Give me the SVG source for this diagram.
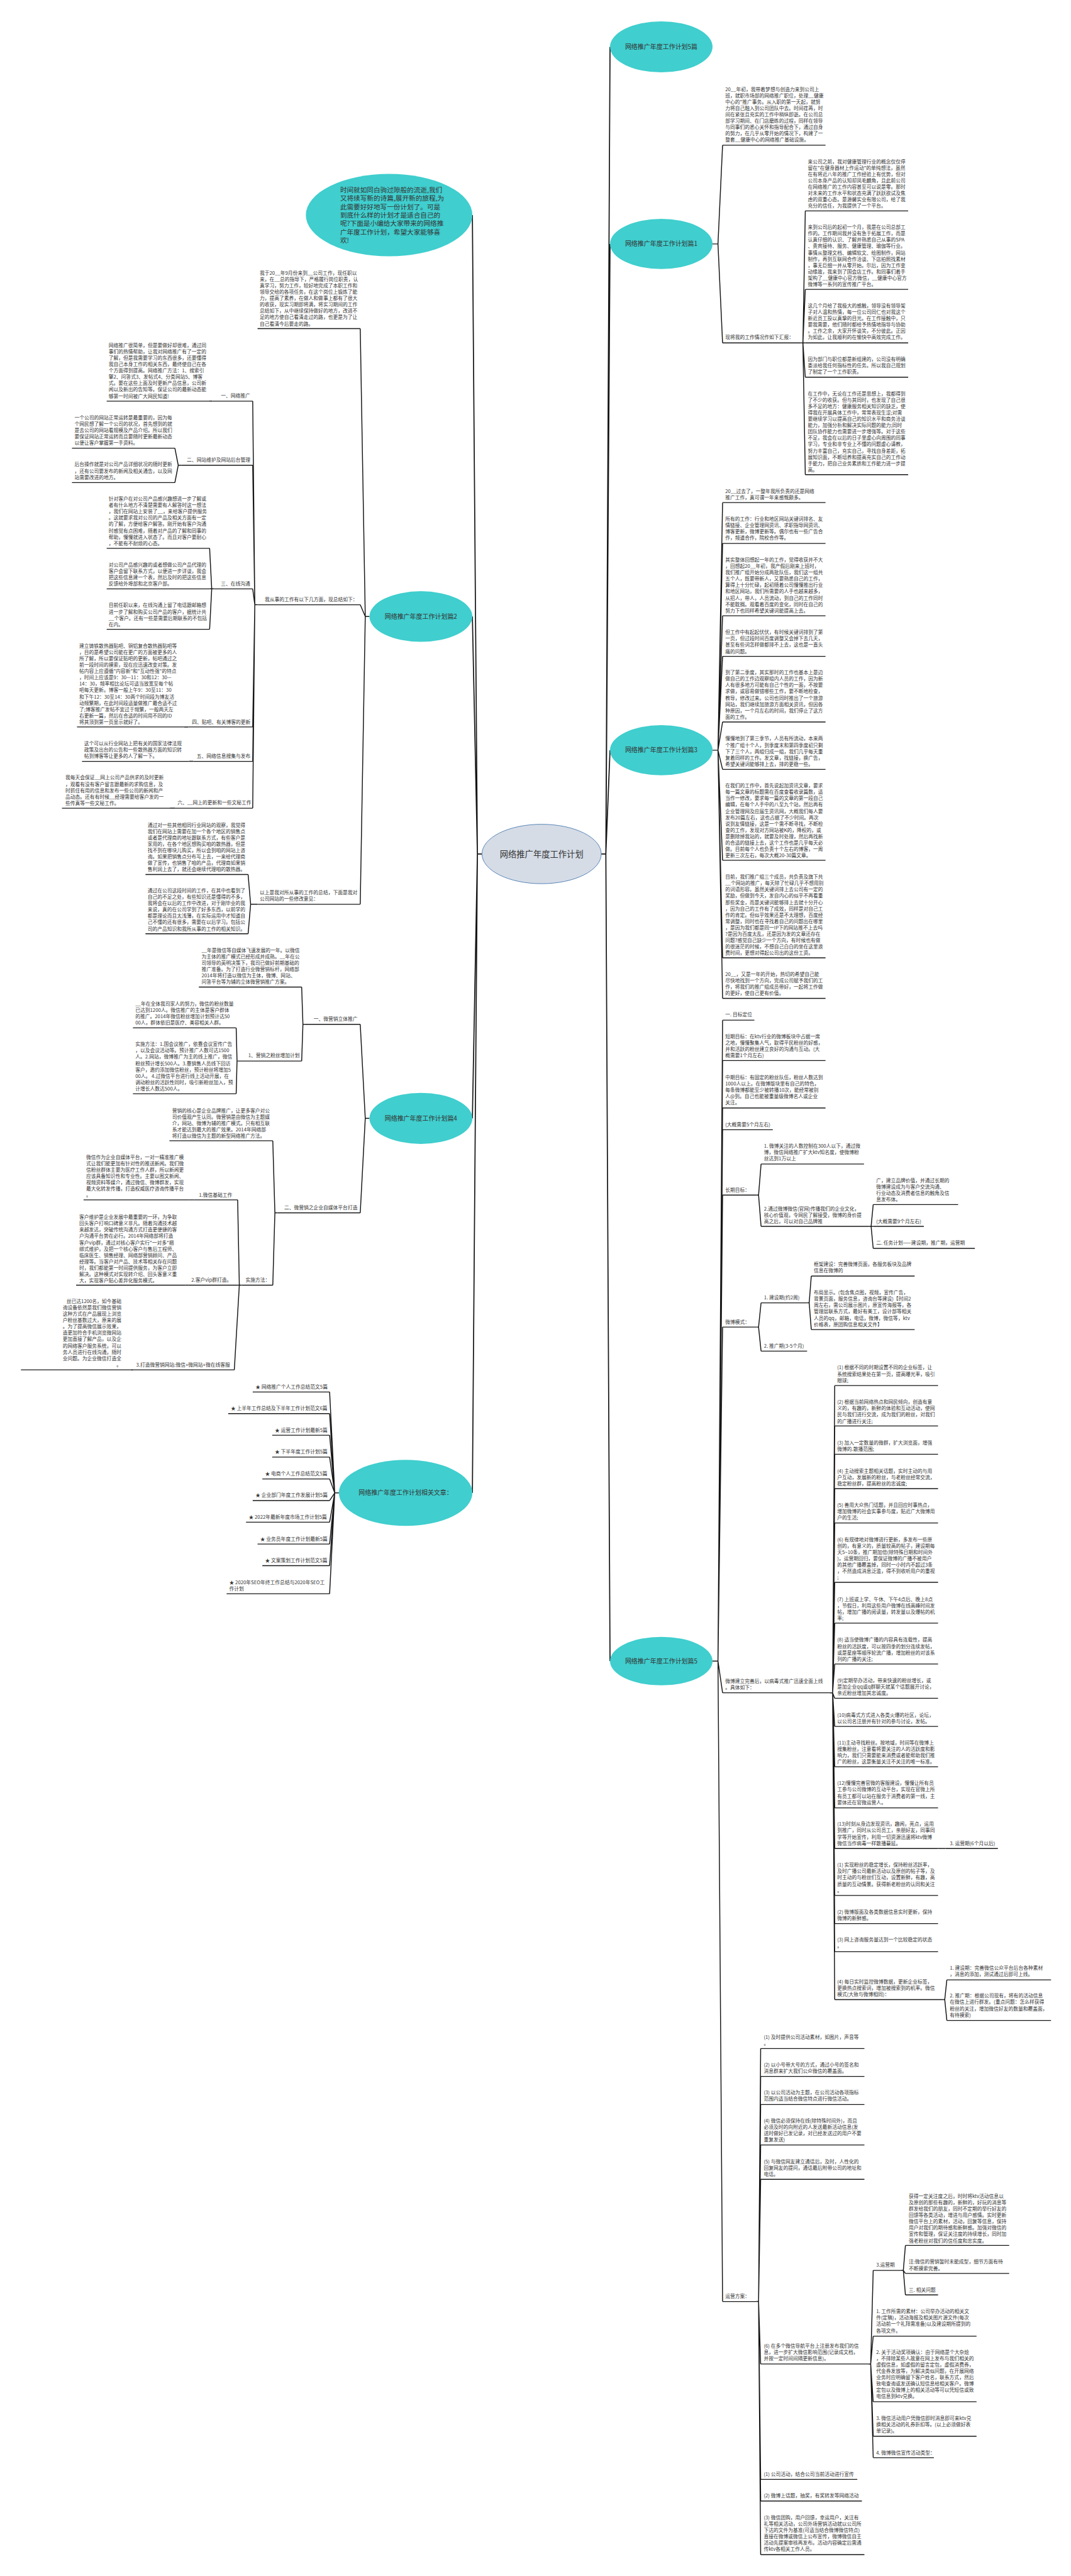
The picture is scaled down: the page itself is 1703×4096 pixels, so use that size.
<svg xmlns="http://www.w3.org/2000/svg" width="1703" height="4096" viewBox="0 0 1703 4096">
<style>
text{font-family:'Noto Sans CJK SC','Noto Sans',sans-serif;fill:#333}
.t{font-size:11.7px}
.n{font-size:15px;text-anchor:middle}
.ul{stroke:#161616;stroke-width:2;fill:none}
.c{stroke:#161616;stroke-width:2.2;fill:none;stroke-linejoin:round}
.nd{fill:#40CECE}
</style>
<rect width="1703" height="4096" fill="#fff"/>
<g transform="scale(0.6653)">
<g id="connectors">
<path class="c" style="stroke-width:2.6" d="M1437 2041H1448L1458 112M1448 2041L1458 583M1448 2041L1458 1793M1448 2041L1458 3970"/>
<path class="c" style="stroke-width:2.6" d="M1152 2041H1141L1129 514M1141 2041L1129 1473.5M1141 2041L1129 2673M1141 2041L1129 3568"/>
<path class="c" d="M1703 583H1716L1727 347M1716 583L1727 819.5"/>
<path class="c" d="M1914 819.5H1919L1924.7 504M1919 819.5L1924.7 691.6M1919 819.5L1924.7 819.5M1919 819.5L1924.7 901.5M1919 819.5L1924.7 1134.5"/>
<path class="c" d="M1703 1793H1716L1727 1201.2M1716 1793L1727 1298.8M1716 1793L1727 1471.7M1716 1793L1727 1568.7M1716 1793L1727 1725.5M1716 1793L1727 1838.8M1716 1793L1727 2056.1M1716 1793L1727 2289.2M1716 1793L1727 2386.2"/>
<path class="c" d="M1703 3970H1716L1727 2438.2M1716 3970L1727 2534.7M1716 3970L1727 2648.1M1716 3970L1727 2700.1M1716 3970L1727 2856.2M1716 3970L1727 3171.7M1716 3970L1727 4045.8M1716 3970L1727 5500.6"/>
<path class="c" d="M1807 2856.2H1813L1819 2782M1813 2856.2L1819 2931"/>
<path class="c" d="M2077 2931H2082L2087 2879M2082 2931L2087 2931M2082 2931L2087 2983.6"/>
<path class="c" d="M1807 3171.7H1813L1819 3113.7M1813 3171.7L1819 3229.1"/>
<path class="c" d="M1929 3113.7H1934L1939 3049.7M1934 3113.7L1939 3177.6"/>
<path class="c" d="M1984 4045.8H1990L1995 3311.5M1990 4045.8L1995 3408M1990 4045.8L1995 3475.7M1990 4045.8L1995 3557.8M1990 4045.8L1995 3639.9M1990 4045.8L1995 3781.7M1990 4045.8L1995 3879.3M1990 4045.8L1995 3976.9M1990 4045.8L1995 4059M1990 4045.8L1995 4126.1M1990 4045.8L1995 4222.6M1990 4045.8L1995 4320.9M1990 4045.8L1995 4417.9M1990 4045.8L1995 4530M1990 4045.8L1995 4597.3M1990 4045.8L1995 4664.5M1990 4045.8L1995 4779.1"/>
<path class="c" d="M2242 4417.9H2260"/>
<path class="c" d="M2254 4779.1H2258L2263 4731.8M2258 4779.1L2263 4828.8"/>
<path class="c" d="M1807 5500.6H1813L1818 4896M1813 5500.6L1818 4962.7M1813 5500.6L1818 5030M1813 5500.6L1818 5126.4M1813 5500.6L1818 5208.5M1813 5500.6L1818 5650M1813 5500.6L1818 5925.6M1813 5500.6L1818 5977.4M1813 5500.6L1818 6105.5"/>
<path class="c" d="M2076 5650H2081L2087 5426.2M2081 5650L2087 5583.5M2081 5650L2087 5740.2M2081 5650L2087 5822.6M2081 5650L2087 5873.8"/>
<path class="c" d="M2154 5426.2H2159L2164 5366.5M2159 5426.2L2164 5433.5M2159 5426.2L2164 5484.8"/>
<path class="c" d="M883 1473.5H873L861 785.3M873 1473.5L861 1445.3M873 1473.5L861 2161.2"/>
<path class="c" d="M615.6 1445.3H609L604 958.7M609 1445.3L604 1111.9M609 1445.3L604 1407.4M609 1445.3L604 1737.5M609 1445.3L604 1819.6M609 1445.3L604 1931.6"/>
<path class="c" d="M507 958.7H499.5M434 1111.9H426L418 1071.2M426 1111.9L418 1153.3M511.6 1407.4H506L501 1310.4M506 1407.4L501 1407.4M506 1407.4L501 1503.9M450 1737.5H440M462 1819.6H452M418 1931.6H406"/>
<path class="c" d="M615.6 2161.2H599L593 2090M599 2161.2L593 2231.7"/>
<path class="c" d="M883 2673H873L861 2448.1M873 2673L861 2898.7"/>
<path class="c" d="M727 2448.1H724L721 2359.1M724 2448.1L721 2535.9M567.7 2535.9H566.5L564.5 2456.7M566.5 2535.9L564.5 2614"/>
<path class="c" d="M663.4 2898.7H657L652 2726.5M657 2898.7L652 3071.5M578 3071.5H572L568 2867.7M572 3071.5L568 3071.5M572 3071.5L560 3274M463.6 2867.7H452M449.7 3071.5H443M319 3274H312"/>
<path class="c" d="M810 3568H800L787.8 3326.8M800 3568L787.8 3378.5M800 3568L787.8 3430.2M800 3568L787.8 3482.4M800 3568L787.8 3534.7M800 3568L787.8 3586.3M800 3568L787.8 3638M800 3568L787.8 3690.2M800 3568L787.8 3741.9M800 3568L787.8 3809"/>
</g>

<g id="center"><ellipse cx="1294.5" cy="2041" rx="142.5" ry="71" fill="#D5DCE6" stroke="#4F7DB3" stroke-width="1.4"/><text x="1294.5" y="2048" style="font-size:20px;text-anchor:middle">网络推广年度工作计划</text></g>

<g id="n-r5"><ellipse class="nd" cx="1580.5" cy="112" rx="122.5" ry="61"/><text class="n" x="1580.5" y="117.3">网络推广年度工作计划5篇</text></g>
<g id="n-r1"><ellipse class="nd" cx="1580.5" cy="583" rx="122.5" ry="60"/><text class="n" x="1580.5" y="588.3">网络推广年度工作计划篇1</text></g>
<g id="n-r3"><ellipse class="nd" cx="1580.5" cy="1793" rx="122.5" ry="60"/><text class="n" x="1580.5" y="1798.3">网络推广年度工作计划篇3</text></g>
<g id="n-r5b"><ellipse class="nd" cx="1580.5" cy="3970" rx="122.5" ry="58"/><text class="n" x="1580.5" y="3975.3">网络推广年度工作计划篇5</text></g>

<g id="n-intro"><ellipse class="nd" cx="930" cy="514" rx="199" ry="98.5"/><text x="813" y="459.8" style="font-size:16px"><tspan x="813">时间就如同白驹过隙般的流逝,我们</tspan><tspan x="813" dy="20.1">又将续写新的诗篇,展开新的旅程,为</tspan><tspan x="813" dy="20.1">此需要好好地写一份计划了。可是</tspan><tspan x="813" dy="20.1">到底什么样的计划才是适合自己的</tspan><tspan x="813" dy="20.1">呢?下面是小编给大家带来的网络推</tspan><tspan x="813" dy="20.1">广年度工作计划，希望大家能够喜</tspan><tspan x="813" dy="20.1">欢!</tspan></text></g>
<g id="n-l2"><ellipse class="nd" cx="1006" cy="1473.5" rx="123" ry="60.5"/><text class="n" x="1006" y="1478.8">网络推广年度工作计划篇2</text></g>
<g id="n-l4"><ellipse class="nd" cx="1006" cy="2673" rx="123" ry="61"/><text class="n" x="1006" y="2678.3">网络推广年度工作计划篇4</text></g>
<g id="n-rel"><ellipse class="nd" cx="969.5" cy="3568" rx="159.5" ry="79"/><text class="n" x="969.5" y="3573.3">网络推广年度工作计划相关文章：</text></g>

<g id="r1-a"><text class="t" y="217.2"><tspan x="1733.4">20__年初，我带着梦想与创造力来到公司上</tspan><tspan x="1733.4" dy="15.2">班，就职市场部的网络推广职位，处理__健康</tspan><tspan x="1733.4" dy="15.2">中心的"推广事务。从入职的第一天起，就努</tspan><tspan x="1733.4" dy="15.2">力将自己融入到公司团队中去。时间荏苒，时</tspan><tspan x="1733.4" dy="15.2">间在紧张且充实的工作中稍纵即逝。在公司总</tspan><tspan x="1733.4" dy="15.2">部学习期间、在门店磨练的过程，同样在领导</tspan><tspan x="1733.4" dy="15.2">与同事们的悉心关怀和指导配合下，通过自身</tspan><tspan x="1733.4" dy="15.2">的努力，在几乎从零开始的情况下，构建了一</tspan><tspan x="1733.4" dy="15.2">整套__健康中心的网络推广基础设施。</tspan></text><path class="ul" d="M1727 347H1973"/></g>
<g id="r1-b"><text class="t" x="1733.4" y="810.7">现将我的工作情况作如下汇报：</text><path class="ul" d="M1727 819.5H1914"/></g>
<g id="r1-b1"><text class="t" y="390.2"><tspan x="1930.8">来公司之前，我对健康管理行业的概念仅仅停</tspan><tspan x="1930.8" dy="15.2">留在"在健身器材上作运动"的单纯想法，虽然</tspan><tspan x="1930.8" dy="15.2">在有将近八年的推广工作经验上有优势，但对</tspan><tspan x="1930.8" dy="15.2">公司本身产品的认知却凤毛麟角，且此前公司</tspan><tspan x="1930.8" dy="15.2">在网络推广的工作内容甚至可以说是零。那时</tspan><tspan x="1930.8" dy="15.2">对未来的工作水平和状态充满了跃跃欲试及焦</tspan><tspan x="1930.8" dy="15.2">虑的双重心态。是源馨实业有限公司，给了我</tspan><tspan x="1930.8" dy="15.2">充分的信任，为我提供了一个平台。</tspan></text><path class="ul" d="M1924.7 504H2170.6"/></g>
<g id="r1-b2"><text class="t" y="547.2"><tspan x="1930.8">来到公司后的起初一个月，我是在公司总部工</tspan><tspan x="1930.8" dy="15.2">作的。工作期间我并没有急于拓展工作，而是</tspan><tspan x="1930.8" dy="15.2">认真仔细的认识、了解并熟悉自己从事的SPA</tspan><tspan x="1930.8" dy="15.2">、贵宾接待、服务、健康管理、瑜伽等行业。</tspan><tspan x="1930.8" dy="15.2">事情从整理文档、编辑软文、绘图制作，网站</tspan><tspan x="1930.8" dy="15.2">制作，再到互联网合作洽谈、下店拍照找素材</tspan><tspan x="1930.8" dy="15.2">，事无巨细一并从零开始。尔后，因为工作变</tspan><tspan x="1930.8" dy="15.2">动缘故，我来到了国会店工作。和同事们着手</tspan><tspan x="1930.8" dy="15.2">架构了__健康中心官方微信，__健康中心官方</tspan><tspan x="1930.8" dy="15.2">微博等一系列的宣传推广平台。</tspan></text><path class="ul" d="M1924.7 691.6H2170.6"/></g>
<g id="r1-b3"><text class="t" y="734.8"><tspan x="1930.8">这几个月给了我极大的感触，领导没有领导架</tspan><tspan x="1930.8" dy="15.2">子对人温和热情，每一位公司同仁也对我这个</tspan><tspan x="1930.8" dy="15.2">新近员工投以真挚的目光。在工作接触中，只</tspan><tspan x="1930.8" dy="15.2">要我需要，他们随时都给予热情地指导与协助</tspan><tspan x="1930.8" dy="15.2">。工作之余，大家开怀谈笑，不分彼此。正因</tspan><tspan x="1930.8" dy="15.2">为如此，让我顺利的在愉快中高效完成工作。</tspan></text><path class="ul" d="M1924.7 819.5H2170.6"/></g>
<g id="r1-b4"><text class="t" y="862.3"><tspan x="1930.8">因为部门与职位都是新组建的，公司没有明确</tspan><tspan x="1930.8" dy="15.2">委派给我任何指标性的任务。所以我自己规划</tspan><tspan x="1930.8" dy="15.2">了制定了一个工作职责。</tspan></text><path class="ul" d="M1924.7 901.5H2170.6"/></g>
<g id="r1-b5"><text class="t" y="944.7"><tspan x="1930.8">在工作中，无论在工作还是思想上，我都得到</tspan><tspan x="1930.8" dy="15.2">了不少的收获。但与其同时，也发现了自己很</tspan><tspan x="1930.8" dy="15.2">多不足的地方：健康服务相关知识的缺乏，使</tspan><tspan x="1930.8" dy="15.2">得我在开展具体工作中，常常表现生涩;对需</tspan><tspan x="1930.8" dy="15.2">要继续学习以提高自己的知识水平和商务洽谈</tspan><tspan x="1930.8" dy="15.2">能力，加强分析和解决实际问题的能力;同时</tspan><tspan x="1930.8" dy="15.2">团队协作能力也需要进一步增强等。对于这些</tspan><tspan x="1930.8" dy="15.2">不足，我会在以后的日子里虚心向周围的同事</tspan><tspan x="1930.8" dy="15.2">学习，专业和非专业上不懂的问题虚心请教，</tspan><tspan x="1930.8" dy="15.2">努力丰富自己，充实自己，寻找自身差距，拓</tspan><tspan x="1930.8" dy="15.2">展知识面，不断培养和提高充实自己的工作动</tspan><tspan x="1930.8" dy="15.2">手能力，把自己业务素质和工作能力进一步提</tspan><tspan x="1930.8" dy="15.2">高。</tspan></text><path class="ul" d="M1924.7 1134.5H2170.6"/></g>

<g id="r3-1"><text class="t" y="1177.8"><tspan x="1733.4">20__过去了，一整年我所负责的还是网络</tspan><tspan x="1733.4" dy="15.2">推广工作，真可谓一年来感慨颇多。</tspan></text><path class="ul" d="M1727 1201.2H1973"/></g>
<g id="r3-2"><text class="t" y="1244.4"><tspan x="1733.4">所有的工作：行业和地区网站关键词排名、友</tspan><tspan x="1733.4" dy="15.2">情链接、企业管理网资讯、求职指导网资讯、</tspan><tspan x="1733.4" dy="15.2">博客更新，微博更新等。偶尔也有一些广告合</tspan><tspan x="1733.4" dy="15.2">作，频道合作，院校合作等。</tspan></text><path class="ul" d="M1727 1298.8H1973"/></g>
<g id="r3-3"><text class="t" y="1342"><tspan x="1733.4">其实整体回想起一年的工作，觉得收获并不大</tspan><tspan x="1733.4" dy="15.2">，回想起20__年初，我产假后刚来上班时，</tspan><tspan x="1733.4" dy="15.2">我们推广组开始分成两批队伍，我们这一组共</tspan><tspan x="1733.4" dy="15.2">五个人，既要带新人，又要熟悉自己的工作，</tspan><tspan x="1733.4" dy="15.2">算得上十分忙碌，起初随着公司慢慢推出行业</tspan><tspan x="1733.4" dy="15.2">和地区网站，我们所需要的人手也越来越多，</tspan><tspan x="1733.4" dy="15.2">从招人，带人，人员流动，到自己的工作同时</tspan><tspan x="1733.4" dy="15.2">不能耽搁。观看着百度的变化，同时在自己的</tspan><tspan x="1733.4" dy="15.2">努力下也同样希望关键词能提高上去。</tspan></text><path class="ul" d="M1727 1471.7H1973"/></g>
<g id="r3-4"><text class="t" y="1515.4"><tspan x="1733.4">但工作中有起起伏伏，有时候关键词排到了第</tspan><tspan x="1733.4" dy="15.2">一页，但过段时间百度调整又会掉下去几天，</tspan><tspan x="1733.4" dy="15.2">甚至有些词怎样做都排不上去，这也是一直头</tspan><tspan x="1733.4" dy="15.2">痛的问题。</tspan></text><path class="ul" d="M1727 1568.7H1973"/></g>
<g id="r3-5"><text class="t" y="1611.4"><tspan x="1733.4">到了第二季度，其实那时的工作也基本上是边</tspan><tspan x="1733.4" dy="15.2">做自己的工作边观察组内人员的工作，因为新</tspan><tspan x="1733.4" dy="15.2">人有很多地方可能有自己个性的一面，不按要</tspan><tspan x="1733.4" dy="15.2">求做，或容易做错哪些工作，要不断地检查，</tspan><tspan x="1733.4" dy="15.2">教导，修改过来。公司也同时推出了一个旅游</tspan><tspan x="1733.4" dy="15.2">网站，我们继续加旅游方面相关资讯，但因各</tspan><tspan x="1733.4" dy="15.2">种原因，一个月左右的时间，我们停止了这方</tspan><tspan x="1733.4" dy="15.2">面的工作。</tspan></text><path class="ul" d="M1727 1725.5H1973"/></g>
<g id="r3-6"><text class="t" y="1769.8"><tspan x="1733.4">慢慢地到了第三季节，人员有所流动，本来两</tspan><tspan x="1733.4" dy="15.2">个推广组十个人，到季度末和第四季度初只剩</tspan><tspan x="1733.4" dy="15.2">下了三个人，两组归成一组，我们几乎每天重</tspan><tspan x="1733.4" dy="15.2">复着同样的工作。发文章，找链接，换广告，</tspan><tspan x="1733.4" dy="15.2">希望关键词能够排上去，排的更稳一些。</tspan></text><path class="ul" d="M1727 1838.8H1973"/></g>
<g id="r3-7"><text class="t" y="1882"><tspan x="1733.4">在我们的工作中，首先说起加资讯文章，要求</tspan><tspan x="1733.4" dy="15.2">每一篇文章的标题需在百度查看收录篇数，适</tspan><tspan x="1733.4" dy="15.2">当作一修改，要求每一篇的文章的第一段自己</tspan><tspan x="1733.4" dy="15.2">编辑，在每个人手中的八至九个站，然后再有</tspan><tspan x="1733.4" dy="15.2">企业管理网及应届生资讯网，大概我们每人要</tspan><tspan x="1733.4" dy="15.2">发布20篇左右，这也占据了不少时间。再次</tspan><tspan x="1733.4" dy="15.2">说到友情链接，这是一个需不断寻找，不断检</tspan><tspan x="1733.4" dy="15.2">查的工作，发现对方网站被K的，降权的，或</tspan><tspan x="1733.4" dy="15.2">是删除掉我站的，就要及时处理，然后再找新</tspan><tspan x="1733.4" dy="15.2">的合适的链接上去，这个工作也是几乎每天必</tspan><tspan x="1733.4" dy="15.2">做。目前每个人也负责十个左右的博客，一周</tspan><tspan x="1733.4" dy="15.2">更新三次左右，每次大概20-30篇文章。</tspan></text><path class="ul" d="M1727 2056.1H1973"/></g>
<g id="r3-8"><text class="t" y="2099.9"><tspan x="1733.4">目前，我们推广组三个成员，共负责及旗下共</tspan><tspan x="1733.4" dy="15.2">__个网站的推广，每天除了忙碌几乎不想用别</tspan><tspan x="1733.4" dy="15.2">的词语形容。虽然关键词排上去公司有一定的</tspan><tspan x="1733.4" dy="15.2">奖励，但做到今天，发自内心的似乎不再看重</tspan><tspan x="1733.4" dy="15.2">那些奖金，而是关键词能够排上去就十分开心</tspan><tspan x="1733.4" dy="15.2">，因为自己的工作有了成效，同样是对自己工</tspan><tspan x="1733.4" dy="15.2">作的肯定。但似乎效果还是不太理想，百度经</tspan><tspan x="1733.4" dy="15.2">常调整，同时也在寻找着自己的问题出在哪里</tspan><tspan x="1733.4" dy="15.2">，是因为我们都是同一IP下的网站推不上去吗</tspan><tspan x="1733.4" dy="15.2">?是因为百度太乱，还是因为发的文章还存在</tspan><tspan x="1733.4" dy="15.2">问题?感觉自己缺少一个方向，有时候也有做</tspan><tspan x="1733.4" dy="15.2">的很迷茫的时候，不想自己白白的坐在这里浪</tspan><tspan x="1733.4" dy="15.2">费时间，更想对得起公司出的这份工资。</tspan></text><path class="ul" d="M1727 2289.2H1973"/></g>
<g id="r3-9"><text class="t" y="2332.9"><tspan x="1733.4">20__，又是一年的开始，热切的希望自己能</tspan><tspan x="1733.4" dy="15.2">尽快地找到一个方向，完成公司赋予我们的工</tspan><tspan x="1733.4" dy="15.2">作，将我们的推广组成员带好，一起将工作做</tspan><tspan x="1733.4" dy="15.2">的更好，使自己更有价值。</tspan></text><path class="ul" d="M1727 2386.2H1973"/></g>

<g id="r5-1"><text class="t" x="1733.4" y="2429.4">一. 目标定位</text><path class="ul" d="M1727 2438.2H1803"/></g>
<g id="r5-2"><text class="t" y="2480.9"><tspan x="1733.4">短期目标：在ktv行业的微博板块中占据一席</tspan><tspan x="1733.4" dy="15.2">之地，慢慢聚集人气，取得平民粉丝的好感，</tspan><tspan x="1733.4" dy="15.2">并和活跃的粉丝建立良好的沟通与互动。(大</tspan><tspan x="1733.4" dy="15.2">概需要1个月左右)</tspan></text><path class="ul" d="M1727 2534.7H1973"/></g>
<g id="r5-3"><text class="t" y="2579.2"><tspan x="1733.4">中期目标：有固定的粉丝队伍，粉丝人数达到</tspan><tspan x="1733.4" dy="15.2">1000人以上。在微博版块里有自己的特色，</tspan><tspan x="1733.4" dy="15.2">每条微博都能至少被转播10次，能经常被别</tspan><tspan x="1733.4" dy="15.2">人@到。自己也能被重量级微博名人或企业</tspan><tspan x="1733.4" dy="15.2">关注。</tspan></text><path class="ul" d="M1727 2648.1H1973"/></g>
<g id="r5-4"><text class="t" x="1733.4" y="2691.3">(大概需要5个月左右)</text><path class="ul" d="M1727 2700.1H1847"/></g>
<g id="r5-5"><text class="t" x="1733.4" y="2848">长期目标：</text><path class="ul" d="M1727 2856.2H1807"/></g>
<g id="r5-5a"><text class="t" y="2743.4"><tspan x="1826">1. 微博关注的人数控制在300人以下，通过微</tspan><tspan x="1826" dy="15.2">博，微信网络推广扩大ktv知名度，使微博粉</tspan><tspan x="1826" dy="15.2">丝达到1万以上</tspan></text><path class="ul" d="M1819 2782H2065"/></g>
<g id="r5-5b"><text class="t" y="2893"><tspan x="1826">2.通过微博微信(官网)传播我们的企业文化，</tspan><tspan x="1826" dy="15.2">核心价值观，令网民了解接受，微博的身价提</tspan><tspan x="1826" dy="15.2">高之后，可以对自己品牌推</tspan></text><path class="ul" d="M1819 2931H2077"/></g>
<g id="r5-5b1"><text class="t" y="2825.2"><tspan x="2094">广，建立品牌价值，并通过长期的</tspan><tspan x="2094" dy="15.2">微博建设成为与客户交流沟通、</tspan><tspan x="2094" dy="15.2">行业动态及消费者信息的触角及信</tspan><tspan x="2094" dy="15.2">息发布体。</tspan></text><path class="ul" d="M2087 2879H2290"/></g>
<g id="r5-5b2"><text class="t" x="2094" y="2922.8">(大概需要9个月左右)</text><path class="ul" d="M2087 2931H2208"/></g>
<g id="r5-5b3"><text class="t" x="2094" y="2974.8">二. 任务计划——建设期，推广期，运营期</text><path class="ul" d="M2087 2983.6H2330"/></g>
<g id="r5-6"><text class="t" x="1733.4" y="3163.4">微博模式：</text><path class="ul" d="M1727 3171.7H1807"/></g>
<g id="r5-6a"><text class="t" x="1826" y="3105.4">1. 建设期(约2周)</text><path class="ul" d="M1819 3113.7H1929"/></g>
<g id="r5-6a1"><text class="t" y="3026.2"><tspan x="1945">框架建设：完善微博页面，各服务板块及品牌</tspan><tspan x="1945" dy="15.2">信息在微博的</tspan></text><path class="ul" d="M1939 3049.7H2186"/></g>
<g id="r5-6a2"><text class="t" y="3093.5"><tspan x="1945">布局显示。(包含焦点图，视频，宣传广告，</tspan><tspan x="1945" dy="15.2">背景页面，服务信息，咨询台等建设)【时间2</tspan><tspan x="1945" dy="15.2">周左右，需公司展示图片，原宣传海报等，各</tspan><tspan x="1945" dy="15.2">管理层联系方式，最好有美工，设计部等相关</tspan><tspan x="1945" dy="15.2">人员的qq，邮箱，电话，微博，微信等，ktv</tspan><tspan x="1945" dy="15.2">价格表，原团购信息相关文件】</tspan></text><path class="ul" d="M1939 3177.6H2186"/></g>
<g id="r5-6b"><text class="t" x="1826" y="3220.9">2. 推广期(3-5个月)</text><path class="ul" d="M1819 3229.1H1929"/></g>
<g id="r5-7"><text class="t" y="4021.8"><tspan x="1733.4">微博建立完善后，以病毒式推广迅速全面上线</tspan><tspan x="1733.4" dy="15.2">。具体如下：</tspan></text><path class="ul" d="M1727 4045.8H1984"/></g>
<g id="p1"><text class="t" y="3272.9"><tspan x="2001">(1) 根据不同的时期设置不同的企业标签，让</tspan><tspan x="2001" dy="15.2">系统搜索结果处在第一页，提高曝光率，吸引</tspan><tspan x="2001" dy="15.2">眼球;</tspan></text><path class="ul" d="M1995 3311.5H2242"/></g>
<g id="p2"><text class="t" y="3355.2"><tspan x="2001">(2) 根据当前网络热点和网民倾向，创造有意</tspan><tspan x="2001" dy="15.2">义的，有趣的，新鲜的体验和互动活动，使网</tspan><tspan x="2001" dy="15.2">民与我们进行交流，成为我们的粉丝，对我们</tspan><tspan x="2001" dy="15.2">的广播进行关注;</tspan></text><path class="ul" d="M1995 3408H2242"/></g>
<g id="p3"><text class="t" y="3452.4"><tspan x="2001">(3) 加入一定数量的微群，扩大浏览面，增强</tspan><tspan x="2001" dy="15.2">微博的.散播范围;</tspan></text><path class="ul" d="M1995 3475.7H2242"/></g>
<g id="p4"><text class="t" y="3519.5"><tspan x="2001">(4) 主动搜索主题相关话题，实时主动的与用</tspan><tspan x="2001" dy="15.2">户互动，发展新的粉丝，与老粉丝经常交流，</tspan><tspan x="2001" dy="15.2">稳定粉丝群，提高粉丝的忠诚度;</tspan></text><path class="ul" d="M1995 3557.8H2242"/></g>
<g id="p5"><text class="t" y="3601.6"><tspan x="2001">(5) 善用大众热门话题，并且回应时事热点，</tspan><tspan x="2001" dy="15.2">增加微博的社会实事参与度，贴近广大微博用</tspan><tspan x="2001" dy="15.2">户的生活;</tspan></text><path class="ul" d="M1995 3639.9H2242"/></g>
<g id="p6"><text class="t" y="3683.7"><tspan x="2001">(6) 有规律地对微博进行更新，多发布一些原</tspan><tspan x="2001" dy="15.2">创的，有意义的，质量较高的帖子，建设期每</tspan><tspan x="2001" dy="15.2">天5~10条，推广期加倍(除特殊日期和时间外</tspan><tspan x="2001" dy="15.2">)，运营期回归，要保证微博的广播不被用户</tspan><tspan x="2001" dy="15.2">的其他广播覆盖掉，同时一小时内不超过3条</tspan><tspan x="2001" dy="15.2">，不然造成消息泛滥，得不到收听用户的重视</tspan><tspan x="2001" dy="15.2">;</tspan></text><path class="ul" d="M1995 3781.7H2242"/></g>
<g id="p7"><text class="t" y="3826.1"><tspan x="2001">(7) 上班或上学、午休、下午4点后、晚上8点</tspan><tspan x="2001" dy="15.2">，节假日，利用这些用户微博在线高峰时间发</tspan><tspan x="2001" dy="15.2">帖，增加广播的阅读量，转发量以及爆帖的机</tspan><tspan x="2001" dy="15.2">率;</tspan></text><path class="ul" d="M1995 3879.3H2242"/></g>
<g id="p8"><text class="t" y="3923.7"><tspan x="2001">(8) 适当使微博广播的内容具有连载性，提高</tspan><tspan x="2001" dy="15.2">粉丝的活跃度，可以按四季的划分连续发帖，</tspan><tspan x="2001" dy="15.2">或是星座等顺序轮流广播，增加粉丝的对该系</tspan><tspan x="2001" dy="15.2">列的广播的关注;</tspan></text><path class="ul" d="M1995 3976.9H2242"/></g>
<g id="p9"><text class="t" y="4020.7"><tspan x="2001">(9)定期举办活动，带来快速的粉丝增长，或</tspan><tspan x="2001" dy="15.2">是加企业qq或q群聊天就某个话题展开讨论，</tspan><tspan x="2001" dy="15.2">亲近粉丝增加其忠诚度。</tspan></text><path class="ul" d="M1995 4059H2242"/></g>
<g id="p10"><text class="t" y="4102.8"><tspan x="2001">(10)病毒式方式进入各类火爆的社区，论坛，</tspan><tspan x="2001" dy="15.2">以公司名注册并有针对的参与讨论，发帖。</tspan></text><path class="ul" d="M1995 4126.1H2242"/></g>
<g id="p11"><text class="t" y="4169.4"><tspan x="2001">(11)主动寻找粉丝。按地域，时间等在微博上</tspan><tspan x="2001" dy="15.2">搜集粉丝，注意看将要关注的人的活跃度和影</tspan><tspan x="2001" dy="15.2">响力，我们只需要能来消费或者能帮助我们推</tspan><tspan x="2001" dy="15.2">广的粉丝，这是衡量关注不关注的唯一标准。</tspan></text><path class="ul" d="M1995 4222.6H2242"/></g>
<g id="p12"><text class="t" y="4266.3"><tspan x="2001">(12)慢慢完善官微的客服建设，慢慢让所有员</tspan><tspan x="2001" dy="15.2">工参与公司微博的互动平台，实现在官微上所</tspan><tspan x="2001" dy="15.2">有员工都可以站在服务于消费者的第一线，主</tspan><tspan x="2001" dy="15.2">要体还在官微运营人。</tspan></text><path class="ul" d="M1995 4320.9H2242"/></g>
<g id="p13"><text class="t" y="4363.9"><tspan x="2001">(13)时刻从身边发现资讯，趣闻，亮点，运用</tspan><tspan x="2001" dy="15.2">到推广，同时从公司员工，亲朋好友，同事同</tspan><tspan x="2001" dy="15.2">学等开始宣传，利用一切资源迅速将ktv微博</tspan><tspan x="2001" dy="15.2">微信当作病毒一样散播蔓延。</tspan></text><path class="ul" d="M1995 4417.9H2242"/></g>
<g id="p13a"><text class="t" x="2270" y="4409.4">3. 运营期(6个月以后)</text><path class="ul" d="M2260 4417.9H2385"/></g>
<g id="q1"><text class="t" y="4461.5"><tspan x="2001">(1) 实现粉丝的稳定增长，保持粉丝活跃率，</tspan><tspan x="2001" dy="15.2">及时广播公司最新活动以及原创的帖子等，及</tspan><tspan x="2001" dy="15.2">时主动的与粉丝们互动，设置新鲜，有趣，高</tspan><tspan x="2001" dy="15.2">质量的互动情景。获得新老粉丝的认同和关注</tspan><tspan x="2001" dy="15.2">。</tspan></text><path class="ul" d="M1995 4530H2242"/></g>
<g id="q2"><text class="t" y="4573.6"><tspan x="2001">(2) 微博版面及各类数据信息实时更新，保持</tspan><tspan x="2001" dy="15.2">微博的新鲜感。</tspan></text><path class="ul" d="M1995 4597.3H2242"/></g>
<g id="q3"><text class="t" y="4640.3"><tspan x="2001">(3) 网上咨询服务量达到一个比较稳定的状态</tspan><tspan x="2001" dy="15.2">。</tspan></text><path class="ul" d="M1995 4664.5H2242"/></g>
<g id="q4"><text class="t" y="4740.9"><tspan x="2001">(4) 每日实时监控微博数据，更新企业标签，</tspan><tspan x="2001" dy="15.2">更换热点搜索词，增加被搜索到的机率。微信</tspan><tspan x="2001" dy="15.2">模式(大致与微博相同)：</tspan></text><path class="ul" d="M1995 4779.1H2254"/></g>
<g id="q4a"><text class="t" y="4707.5"><tspan x="2270">1. 建设期：完善微信公众平台后台各种素材</tspan><tspan x="2270" dy="15.2">，消息的添加，测试通过后即可上线。</tspan></text><path class="ul" d="M2263 4731.8H2512"/></g>
<g id="q4b"><text class="t" y="4774.2"><tspan x="2270">2. 推广期：根据公司现有，将有的活动信息</tspan><tspan x="2270" dy="15.2">在微信上进行群发。(重点问题：怎么样获得</tspan><tspan x="2270" dy="15.2">粉丝的关注，增加微信好友的数量和覆盖面，</tspan><tspan x="2270" dy="15.2">有待摸索)</tspan></text><path class="ul" d="M2263 4828.8H2512"/></g>
<g id="r5-8"><text class="t" x="1733.4" y="5492">运营方案：</text><path class="ul" d="M1727 5500.6H1807"/></g>
<g id="s1"><text class="t" y="4872.4"><tspan x="1825.4">(1) 及时提供公司活动素材，如图片，声音等</tspan><tspan x="1825.4" dy="15.2">。</tspan></text><path class="ul" d="M1818 4896H2066"/></g>
<g id="s2"><text class="t" y="4939"><tspan x="1825.4">(2) 以小号带大号的方式，通过小号的签名和</tspan><tspan x="1825.4" dy="15.2">消息群来扩大我们公众微信的覆盖面。</tspan></text><path class="ul" d="M1818 4962.7H2066"/></g>
<g id="s3"><text class="t" y="5005.7"><tspan x="1825.4">(3) 以公司活动为主题，在公司活动各项指标</tspan><tspan x="1825.4" dy="15.2">范围内适当结合微信特点进行微信活动。</tspan></text><path class="ul" d="M1818 5030H2066"/></g>
<g id="s4"><text class="t" y="5073"><tspan x="1825.4">(4) 微信必须保持在线(除特殊时间外)，而且</tspan><tspan x="1825.4" dy="15.2">必须及时的向附近的人发送最新活动信息(发</tspan><tspan x="1825.4" dy="15.2">送时做好已发记录，对已经发送过的用户不要</tspan><tspan x="1825.4" dy="15.2">重复发送)</tspan></text><path class="ul" d="M1818 5126.4H2066"/></g>
<g id="s5"><text class="t" y="5170"><tspan x="1825.4">(5) 与微信网友建立通话后，及时，人性化的</tspan><tspan x="1825.4" dy="15.2">回复网友的提问，通话最后附带公司的地址和</tspan><tspan x="1825.4" dy="15.2">电话。</tspan></text><path class="ul" d="M1818 5208.5H2066"/></g>
<g id="s6"><text class="t" y="5610.9"><tspan x="1825.4">(6) 在多个微信导航平台上注册发布我们的信</tspan><tspan x="1825.4" dy="15.2">息，进一步扩大微信影响范围(记录成文档，</tspan><tspan x="1825.4" dy="15.2">并按一定时间间隔更新信息)。</tspan></text><path class="ul" d="M1818 5650H2076"/></g>
<g id="s6a"><text class="t" x="2094" y="5417.6">3.运营期</text><path class="ul" d="M2087 5426.2H2154"/></g>
<g id="s6a1"><text class="t" y="5253"><tspan x="2172">获得一定关注度之后，时时将ktv活动信息以</tspan><tspan x="2172" dy="15.2">及原创的那些有趣的，新鲜的，好玩的消息等</tspan><tspan x="2172" dy="15.2">群发给我们的朋友，同时不定期的举行好友的</tspan><tspan x="2172" dy="15.2">回馈等各类活动，增进与用户感情。实时更新</tspan><tspan x="2172" dy="15.2">微信平台上的素材，活动，回复等信息，保持</tspan><tspan x="2172" dy="15.2">用户对我们的期待感和新鲜感。加强对微信的</tspan><tspan x="2172" dy="15.2">宣传和管理，保证关注度的持续增长，同时加</tspan><tspan x="2172" dy="15.2">强老粉丝对我们的信任度和忠实度。</tspan></text><path class="ul" d="M2164 5366.5H2412"/></g>
<g id="s6a2"><text class="t" y="5410.3"><tspan x="2172">注:微信的营销暂时未能成型，细节方面有待</tspan><tspan x="2172" dy="15.2">不断摸索完善。</tspan></text><path class="ul" d="M2164 5433.5H2412"/></g>
<g id="s6a3"><text class="t" x="2172" y="5477.4">三. 相关问题</text><path class="ul" d="M2164 5484.8H2242"/></g>
<g id="s6b"><text class="t" y="5528.6"><tspan x="2094">1. 工作所需的素材：公司举办活动的相关文</tspan><tspan x="2094" dy="15.2">件(定稿)，活动海报及相关图片源文件(每次</tspan><tspan x="2094" dy="15.2">活动前一个礼拜需准备)以及建设期所提到的</tspan><tspan x="2094" dy="15.2">各项文件。</tspan></text><path class="ul" d="M2087 5583.5H2334"/></g>
<g id="s6c"><text class="t" y="5625.5"><tspan x="2094">2. 关于活动奖项确认：由于网络是个大杂烩</tspan><tspan x="2094" dy="15.2">，不排除某些人故意在网上发布与我们相关的</tspan><tspan x="2094" dy="15.2">虚假信息，如虚假的留言定包，虚假消费券，</tspan><tspan x="2094" dy="15.2">代金券发放等，为解决类似问题，在开展网络</tspan><tspan x="2094" dy="15.2">业务时应明确留下客户姓名，联系方式，然后</tspan><tspan x="2094" dy="15.2">致电查询或发送确认短信息给相关客户。微博</tspan><tspan x="2094" dy="15.2">定包以及微博上的相关活动等可以凭短信或致</tspan><tspan x="2094" dy="15.2">电信息到ktv兑换。</tspan></text><path class="ul" d="M2087 5740.2H2334"/></g>
<g id="s6d"><text class="t" y="5783.5"><tspan x="2094">3. 微信活动用户凭微信即时消息即可来ktv兑</tspan><tspan x="2094" dy="15.2">换相关活动的礼券折扣等。(以上必须做好表</tspan><tspan x="2094" dy="15.2">单记录)。</tspan></text><path class="ul" d="M2087 5822.6H2334"/></g>
<g id="s6e"><text class="t" x="2094" y="5865.8">4. 微博微信宣传活动类型：</text><path class="ul" d="M2087 5873.8H2232"/></g>
<g id="s7"><text class="t" x="1825.4" y="5917.6">(1) 公司活动，结合公司当前活动进行宣传</text><path class="ul" d="M1818 5925.6H2049"/></g>
<g id="s8"><text class="t" x="1825.4" y="5969.4">(2) 微博上话题，抽奖，有奖转发等网络活动</text><path class="ul" d="M1818 5977.4H2060"/></g>
<g id="s9"><text class="t" y="6021.2"><tspan x="1825.4">(3) 微信团购，用户回馈，幸运用户，关注有</tspan><tspan x="1825.4" dy="15.2">礼等相关活动，公司外场营销活动就以公司所</tspan><tspan x="1825.4" dy="15.2">下达的文件为基准(可适当结合微博微信特点)</tspan><tspan x="1825.4" dy="15.2">直接在微博或微信上公布宣传，微博微信自主</tspan><tspan x="1825.4" dy="15.2">活动先提案审核再发布。活动内容确定后需通</tspan><tspan x="1825.4" dy="15.2">传ktv各相关工作人员。</tspan></text><path class="ul" d="M1818 6105.5H2066"/></g>

<g id="l2-a"><text class="t" y="656.3"><tspan x="620.7">我于20__年9月份来到__公司工作，现任职以</tspan><tspan x="620.7" dy="15.2">来，在__总的指导下，严格履行岗位职责，认</tspan><tspan x="620.7" dy="15.2">真学习，努力工作，较好地完成了本职工作和</tspan><tspan x="620.7" dy="15.2">领导交给的各项任务，在这个岗位上锻炼了能</tspan><tspan x="620.7" dy="15.2">力，提高了素养，在做人和做事上都有了很大</tspan><tspan x="620.7" dy="15.2">的收获，现实习期即将满，将实习期间的工作</tspan><tspan x="620.7" dy="15.2">总结如下，从中继续保持做好的地方，改进不</tspan><tspan x="620.7" dy="15.2">足的地方使自己看清走过的路，也更是为了让</tspan><tspan x="620.7" dy="15.2">自己看清今后要走的路。</tspan></text><path class="ul" d="M615.6 785.3H861"/></g>
<g id="l2-b"><text class="t" x="632.8" y="1436.3">我从事的工作有以下几方面，现总结如下：</text><path class="ul" d="M615.6 1445.3H861"/></g>
<g id="l2-b1"><text class="t" x="528" y="950.2">一、网络推广</text><path class="ul" d="M507 958.7H604"/></g>
<g id="l2-b1c"><text class="t" y="829.1"><tspan x="259.7">网络推广很简单，但是要做好却很难，通过同</tspan><tspan x="259.7" dy="15.2">事们的热情帮助，让我对网络推广有了一定的</tspan><tspan x="259.7" dy="15.2">了解，但是我需要学习的东西很多，还要懂得</tspan><tspan x="259.7" dy="15.2">我自己本身工作的相关东西，最终使自己在各</tspan><tspan x="259.7" dy="15.2">个方面得到提高。网络推广方法：1、搜索引</tspan><tspan x="259.7" dy="15.2">擎2、问答式3、发帖式4、分类网站5、博客</tspan><tspan x="259.7" dy="15.2">式。要在这些上面及时更新产品信息，公司新</tspan><tspan x="259.7" dy="15.2">闻以及新出的告知等。保证公司的最新动态能</tspan><tspan x="259.7" dy="15.2">够第一时间被广大网民知道!</tspan></text><path class="ul" d="M255 958.7H499.5"/></g>
<g id="l2-b2"><text class="t" x="446.6" y="1102.9">二、网站维护及网站后台管理</text><path class="ul" d="M434 1111.9H604"/></g>
<g id="l2-b2c1"><text class="t" y="1002.5"><tspan x="178">一个公司的网站正常运转是最重要的，因为每</tspan><tspan x="178" dy="15.2">个网民想了解一个公司的状况，首先想到的就</tspan><tspan x="178" dy="15.2">是去公司的网站看规模及产品介绍。所以我们</tspan><tspan x="178" dy="15.2">要保证网站正常运转而且要随时更新最新动态</tspan><tspan x="178" dy="15.2">以便让客户掌握第一手资料。</tspan></text><path class="ul" d="M172 1071.2H418"/></g>
<g id="l2-b2c2"><text class="t" y="1114.4"><tspan x="178">后台操作就是对公司产品详细状况的随时更新</tspan><tspan x="178" dy="15.2">，还有公司要发布的新闻及相关通告，以及网</tspan><tspan x="178" dy="15.2">站需要改进的地方。</tspan></text><path class="ul" d="M172 1153.3H418"/></g>
<g id="l2-b3"><text class="t" x="528" y="1399">三、在线沟通</text><path class="ul" d="M511.6 1407.4H604"/></g>
<g id="l2-b3c1"><text class="t" y="1196.5"><tspan x="259.7">针对客户在对公司产品感兴趣想进一步了解或</tspan><tspan x="259.7" dy="15.2">者有什么地方不清楚需要有人解答时这一想法</tspan><tspan x="259.7" dy="15.2">，我们在网站上安装了__，来给客户提供服务</tspan><tspan x="259.7" dy="15.2">。这就要求我对公司的产品及相关方面有一定</tspan><tspan x="259.7" dy="15.2">的了解，方便给客户解答。刚开始有客户沟通</tspan><tspan x="259.7" dy="15.2">时感觉有点困难，随着对产品的了解和同事的</tspan><tspan x="259.7" dy="15.2">帮助，慢慢就进入状态了。而且对客户要耐心</tspan><tspan x="259.7" dy="15.2">，不能有不耐烦的心态。</tspan></text><path class="ul" d="M255 1310.4H501"/></g>
<g id="l2-b3c2"><text class="t" y="1354.2"><tspan x="259.7">对公司产品感兴趣的或者想做公司产品代理的</tspan><tspan x="259.7" dy="15.2">客户会留下联系方式，以便进一步详谈，我会</tspan><tspan x="259.7" dy="15.2">把这些信息建一个表，然后及时的把这些信息</tspan><tspan x="259.7" dy="15.2">反馈给外埠部和北京客户部。</tspan></text><path class="ul" d="M255 1407.4H501"/></g>
<g id="l2-b3c3"><text class="t" y="1451.2"><tspan x="259.7">目前任职以来，在线沟通上留了电话跟邮箱想</tspan><tspan x="259.7" dy="15.2">进一步了解和购买公司产品的客户，据统计共</tspan><tspan x="259.7" dy="15.2">__个客户。还有一些是需要后期联系的不包括</tspan><tspan x="259.7" dy="15.2">在内。</tspan></text><path class="ul" d="M255 1503.9H501"/></g>
<g id="l2-b4"><text class="t" x="458.7" y="1729.7">四、贴吧、有关博客的更新</text><path class="ul" d="M450 1737.5H604"/></g>
<g id="l2-b4c"><text class="t" y="1547.7"><tspan x="189.5">建立铸铁散热器贴吧、铜铝复合散热器贴吧等</tspan><tspan x="189.5" dy="15.2">，目的是希望公司能在更广的方面被更多的人</tspan><tspan x="189.5" dy="15.2">所了解，所以要保证贴吧的更新，帖吧通过之</tspan><tspan x="189.5" dy="15.2">前一段时间的摸索，现在应迅速改变对策。发</tspan><tspan x="189.5" dy="15.2">帖内容上应遵循"内容新"和"互动性强"的特点</tspan><tspan x="189.5" dy="15.2">，时间上应该是9：30—11：30和12：30—</tspan><tspan x="189.5" dy="15.2">14：30，频率相比论坛可适当放宽至每个帖</tspan><tspan x="189.5" dy="15.2">吧每天更新。博客一般上午9：30至11：30</tspan><tspan x="189.5" dy="15.2">和下午12：30至14：30两个时间段为博友活</tspan><tspan x="189.5" dy="15.2">动频繁期，在此时间段适量做推广最合适不过</tspan><tspan x="189.5" dy="15.2">了;博客推广发帖不宜过于频繁，一般两天左</tspan><tspan x="189.5" dy="15.2">右更新一篇，然后在合适的时间用不同的ID</tspan><tspan x="189.5" dy="15.2">将其顶到第一页显示就好了。</tspan></text><path class="ul" d="M184 1737.5H440"/></g>
<g id="l2-b5"><text class="t" x="470.2" y="1811.2">五、网络信息搜集与发布</text><path class="ul" d="M462 1819.6H604"/></g>
<g id="l2-b5c"><text class="t" y="1781.3"><tspan x="201">这个可以从行业网站上把有关的国家法律法规</tspan><tspan x="201" dy="15.2">政策及出台的公告和一些散热器方面的知识转</tspan><tspan x="201" dy="15.2">帖到博客等让更多的人了解一下。</tspan></text><path class="ul" d="M196 1819.6H452"/></g>
<g id="l2-b6"><text class="t" x="424.2" y="1923.1">六、__网上的更新和一些文秘工作</text><path class="ul" d="M418 1931.6H604"/></g>
<g id="l2-b6c"><text class="t" y="1862.9"><tspan x="156.4">我每天会保证__网上公司产品供求的及时更新</tspan><tspan x="156.4" dy="15.2">，观看有没有客户留言跟最新的求购信息，及</tspan><tspan x="156.4" dy="15.2">时抓住有用的信息和发布一些公司的新闻和产</tspan><tspan x="156.4" dy="15.2">品动态。还有有时候__经理需要给客户发的一</tspan><tspan x="156.4" dy="15.2">些传真等一些文秘工作。</tspan></text><path class="ul" d="M148 1931.6H406"/></g>
<g id="l2-c"><text class="t" y="2137.8"><tspan x="620.7">以上是我对所从事的工作的总结，下面是我对</tspan><tspan x="620.7" dy="15.2">公司网站的一些修改意见：</tspan></text><path class="ul" d="M615.6 2161.2H861"/></g>
<g id="l2-c1"><text class="t" y="1975.9"><tspan x="352.8">通过对一些其他相同行业网站的观察，我觉得</tspan><tspan x="352.8" dy="15.2">我们在网站上需要在加一个各个地区的销售点</tspan><tspan x="352.8" dy="15.2">或者是代理商的地址跟联系方式，有些客户是</tspan><tspan x="352.8" dy="15.2">家用的，在各个地区想购买咱的散热器，但是</tspan><tspan x="352.8" dy="15.2">找不到在哪块儿购买，所以会到咱的网站上咨</tspan><tspan x="352.8" dy="15.2">询。如果把销售点分布写上去，一来给代理商</tspan><tspan x="352.8" dy="15.2">做了宣传，也销售了咱的产品，代理商如果销</tspan><tspan x="352.8" dy="15.2">售利润上去了，就还会继续代理咱的散热器。</tspan></text><path class="ul" d="M347.7 2090H593"/></g>
<g id="l2-c2"><text class="t" y="2132.7"><tspan x="352.8">通过在公司这段时间的工作，在其中也看到了</tspan><tspan x="352.8" dy="15.2">自己的不足之处，有些知识还是懂得的不多，</tspan><tspan x="352.8" dy="15.2">我将会在以后的工作中改进，对于刚毕业的我</tspan><tspan x="352.8" dy="15.2">来说，真的在公司学到了好多东西，以前学的</tspan><tspan x="352.8" dy="15.2">都是理论而且太浅薄，在实际运用中才知道自</tspan><tspan x="352.8" dy="15.2">己不懂的还有很多，需要在以后学习。包括公</tspan><tspan x="352.8" dy="15.2">司的产品知识和我所从事的工作的相关知识。</tspan></text><path class="ul" d="M347.7 2231.7H593"/></g>

<g id="l4-1"><text class="t" x="749.5" y="2439.7">一、微营销立体推广</text><path class="ul" d="M727 2448.1H861"/></g>
<g id="l4-1a"><text class="t" y="2275.5"><tspan x="481.6">__年是微信等自媒体飞速发展的一年。以微信</tspan><tspan x="481.6" dy="15.2">为主体的推广模式已经形成并成熟。__年在公</tspan><tspan x="481.6" dy="15.2">司领导的英明决策下，我司已做好前期基础的</tspan><tspan x="481.6" dy="15.2">推广准备。为了打造行业微营销标杆，网络部</tspan><tspan x="481.6" dy="15.2">2014年将打造以微信为主体，微博、网站、</tspan><tspan x="481.6" dy="15.2">问答平台等为辅的立体微营销推广方案。</tspan></text><path class="ul" d="M475.3 2359.1H721"/></g>
<g id="l4-1b"><text class="t" x="593.2" y="2526.9">1、营销之粉丝增加计划</text><path class="ul" d="M567.7 2535.9H721"/></g>
<g id="l4-1b1"><text class="t" y="2402.9"><tspan x="323.5">__年在全体我司家人的努力，微信的粉丝数量</tspan><tspan x="323.5" dy="15.2">已达到1200人。微信推广的主体是客户群体</tspan><tspan x="323.5" dy="15.2">的推广。2014年微信粉丝增加计划预计达50</tspan><tspan x="323.5" dy="15.2">00人，群体依旧是医疗、美容相关人群。</tspan></text><path class="ul" d="M317.7 2456.7H564.5"/></g>
<g id="l4-1b2"><text class="t" y="2499.9"><tspan x="323.5">实施方法：1.国会议推广，依靠会议宣传广告</tspan><tspan x="323.5" dy="15.2">，以及会议活动等。预计推广人数可达1500</tspan><tspan x="323.5" dy="15.2">人。2.网站，微博推广为主的线上推广，微信</tspan><tspan x="323.5" dy="15.2">粉丝预计增长500人。3.靠销售人员线下回访</tspan><tspan x="323.5" dy="15.2">客户，邀约添加微信粉丝，预计粉丝将增加5</tspan><tspan x="323.5" dy="15.2">00人。 4.过微信平台进行线上活动开展，在</tspan><tspan x="323.5" dy="15.2">调动粉丝的活跃性同时，吸引新粉丝加入，预</tspan><tspan x="323.5" dy="15.2">计增长人数达500人。</tspan></text><path class="ul" d="M317.7 2614H564.5"/></g>
<g id="l4-2"><text class="t" x="679.3" y="2890.3">二、微营销之企业自媒体平台打造</text><path class="ul" d="M663.4 2898.7H861"/></g>
<g id="l4-2a"><text class="t" y="2658.4"><tspan x="411.5">营销的核心是企业品牌推广，让更多客户对公</tspan><tspan x="411.5" dy="15.2">司价值观产生认同。微营销是由微信为主题媒</tspan><tspan x="411.5" dy="15.2">介，网站、微博为辅的推广模式。只有相互联</tspan><tspan x="411.5" dy="15.2">系才能达到最大的推广效果。2014年网络部</tspan><tspan x="411.5" dy="15.2">将打造以微信为主题的新型网络推广方法。</tspan></text><path class="ul" d="M405 2726.5H652"/></g>
<g id="l4-2b"><text class="t" x="587" y="3063.7">实施方法：</text><path class="ul" d="M578 3071.5H652"/></g>
<g id="l4-2b1"><text class="t" x="475.3" y="2860.4">1.微信基础工作</text><path class="ul" d="M463.6 2867.7H568"/></g>
<g id="l4-2b1c"><text class="t" y="2769.7"><tspan x="206">微信作为企业自媒体平台，一对一精准推广模</tspan><tspan x="206" dy="15.2">式让我们能更加有针对性的推送新闻。我们微</tspan><tspan x="206" dy="15.2">信粉丝群体主要为医疗工作人群，所以新闻更</tspan><tspan x="206" dy="15.2">应该具备知识性和专业性。主要以图文新闻、</tspan><tspan x="206" dy="15.2">视频资料等媒介，通过微信、微博群发，实现</tspan><tspan x="206" dy="15.2">最大化转发传播，打造权威医疗咨询传播平台</tspan><tspan x="206" dy="15.2">。</tspan></text><path class="ul" d="M199.7 2867.7H452"/></g>
<g id="l4-2b2"><text class="t" x="457.4" y="3063.7">2.客户vip群打造。</text><path class="ul" d="M449.7 3071.5H568"/></g>
<g id="l4-2b2c"><text class="t" y="2913.2"><tspan x="189.5">客户维护是企业发展中最重要的一环，为争取</tspan><tspan x="189.5" dy="15.2">回头客户打响口碑意义非凡。随着沟通技术越</tspan><tspan x="189.5" dy="15.2">来越发达，突破传统沟通方式打造更便捷的客</tspan><tspan x="189.5" dy="15.2">户沟通平台势在必行。2014年网络部将打造</tspan><tspan x="189.5" dy="15.2">客户vip群，通过对核心客户实行"一对多"捆</tspan><tspan x="189.5" dy="15.2">绑式维护，及把一个核心客户与售后工程师、</tspan><tspan x="189.5" dy="15.2">临床医生、销售经理、网络部营销顾问、产品</tspan><tspan x="189.5" dy="15.2">经理等。当客户对产品、技术等相关存在问题</tspan><tspan x="189.5" dy="15.2">时，我们都能第一时间提供服务，为客户立即</tspan><tspan x="189.5" dy="15.2">解决。这种模式对实现转介绍、回头客意义重</tspan><tspan x="189.5" dy="15.2">大，实现客户贴心差异化服务模式。</tspan></text><path class="ul" d="M182 3071.5H443"/></g>
<g id="l4-2b3"><text class="t" x="325.4" y="3266.7">3.打造微营销网站:微信+微网站+微在线客服</text><path class="ul" d="M319 3274H560"/></g>
<g id="l4-2b3c"><text class="t" y="3114.1" style="text-anchor:end"><tspan x="290">丝已达1200名，如今基础</tspan><tspan x="290" dy="15.2">询设备依然是我们微信营销</tspan><tspan x="290" dy="15.2">这种方式在产品展现上浏览</tspan><tspan x="290" dy="15.2">户粉丝基数过大，原来的展</tspan><tspan x="290" dy="15.2">。为了提高微信展示效果，</tspan><tspan x="290" dy="15.2">造更加符合手机浏览微网站</tspan><tspan x="290" dy="15.2">更加直接了解产品，以及企</tspan><tspan x="290" dy="15.2">的网络客户服务系统，可以</tspan><tspan x="290" dy="15.2">务人员进行在线沟通，随时</tspan><tspan x="290" dy="15.2">业问题。为企业微信打造全</tspan><tspan x="290" dy="15.2">。</tspan></text><path class="ul" d="M50 3274H312"/></g>

<g id="rel-1"><text class="t" x="610.5" y="3318.4">★ 网络推广个人工作总结范文5篇</text><path class="ul" d="M604 3326.8H787.8"/></g>
<g id="rel-2"><text class="t" x="551.5" y="3370.1">★ 上半年工作总结及下半年工作计划范文6篇</text><path class="ul" d="M545.4 3378.5H787.8"/></g>
<g id="rel-3"><text class="t" x="657" y="3422.3">★ 运营工作计划最新5篇</text><path class="ul" d="M650.6 3430.2H787.8"/></g>
<g id="rel-4"><text class="t" x="657" y="3474">★ 下半年度工作计划5篇</text><path class="ul" d="M650.6 3482.4H787.8"/></g>
<g id="rel-5"><text class="t" x="633.4" y="3525.7">★ 电商个人工作总结范文5篇</text><path class="ul" d="M627 3534.7H787.8"/></g>
<g id="rel-6"><text class="t" x="610.5" y="3577.9">★ 企业部门年度工作发展计划5篇</text><path class="ul" d="M604 3586.3H787.8"/></g>
<g id="rel-7"><text class="t" x="594.5" y="3629.5">★ 2022年最新年度市场工作计划5篇</text><path class="ul" d="M588 3638H787.8"/></g>
<g id="rel-8"><text class="t" x="622" y="3681.8">★ 业务员年度工作计划最新5篇</text><path class="ul" d="M615.6 3690.2H787.8"/></g>
<g id="rel-9"><text class="t" x="633.4" y="3733.5">★ 文案策划工作计划范文5篇</text><path class="ul" d="M627 3741.9H787.8"/></g>
<g id="rel-10"><text class="t" y="3785.7"><tspan x="548">★ 2020年SEO年终工作总结与2020年SEO工</tspan><tspan x="548" dy="15.2">作计划</tspan></text><path class="ul" d="M541.6 3809H787.8"/></g>
</g>
</svg>
